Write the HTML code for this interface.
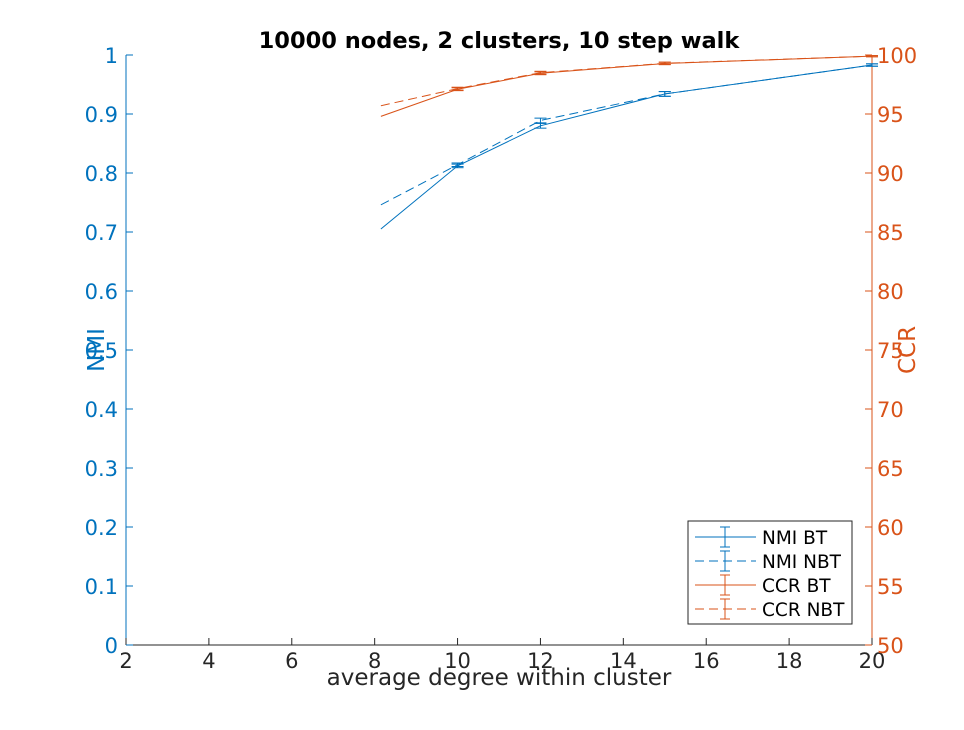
<!DOCTYPE html>
<html><head><meta charset="utf-8"><style>
body{margin:0;background:#fff;}
svg text{font-family:"DejaVu Sans","Liberation Sans",sans-serif;}
</style></head><body>
<svg id="c" width="964" height="725" xmlns="http://www.w3.org/2000/svg"></svg>
<script>
const xVals=[8.15,10,12,15,20];
const nmiBT=[0.705,0.812,0.880,0.934,0.983];
const nmiNBT=[0.746,0.814,0.889,0.934,0.983];
const nmiErr=[0,0.003,0.004,0.004,0.002];
const ccrBT=[94.8,97.1,98.45,99.28,99.9];
const ccrNBT=[95.7,97.15,98.5,99.3,99.9];
const ccrErr=[0,0.12,0.12,0.1,0.05];
const xTicks=[2,4,6,8,10,12,14,16,18,20];
const yTicks=[0,0.1,0.2,0.3,0.4,0.5,0.6,0.7,0.8,0.9,1];
const y2Ticks=[50,55,60,65,70,75,80,85,90,95,100];
const L=126,R=872,T=55,B=645;
const sx=v=>L+(v-2)/18*(R-L);
const sy=v=>B-v*(B-T);
const sy2=v=>B-(v-50)/50*(B-T);
const NS="http://www.w3.org/2000/svg";
const svg=document.getElementById('c');
function el(tag,attrs,name,txt){const e=document.createElementNS(NS,tag);for(const k in attrs)e.setAttribute(k,attrs[k]);


if(txt!==undefined)e.textContent=txt;svg.appendChild(e);return e;}
const blue='#0072BD',red='#D95319',dark='#262626';
el('line',{x1:L,y1:B,x2:R,y2:B,stroke:dark,'stroke-width':1},'x-axis');
el('line',{x1:L,y1:T,x2:L,y2:B,stroke:blue,'stroke-width':1},'y-axis-left');
el('line',{x1:R,y1:T,x2:R,y2:B,stroke:red,'stroke-width':1},'y-axis-right');
xTicks.forEach(t=>{const x=sx(t);
el('line',{x1:x,y1:B,x2:x,y2:B-7,stroke:dark},'x-tick');
el('text',{x:x,y:B+23,'text-anchor':'middle','font-size':21,fill:dark},'x-tick-label',t);});
yTicks.forEach(t=>{const y=sy(t);
el('line',{x1:L,y1:y,x2:L+7,y2:y,stroke:blue},'y-tick');
el('text',{x:L-8,y:y+8,'text-anchor':'end','font-size':21,fill:blue},'y-tick-label',String(t));});
y2Ticks.forEach(t=>{const y=sy2(t);
el('line',{x1:R,y1:y,x2:R-7,y2:y,stroke:red},'y2-tick');
el('text',{x:R+5,y:y+8,'text-anchor':'start','font-size':21,fill:red},'y2-tick-label',String(t));});
el('text',{x:(L+R)/2,y:685,'text-anchor':'middle','font-size':23,fill:dark},'x-axis-title','average degree within cluster');
el('text',{x:0,y:0,'text-anchor':'middle','font-size':23,fill:blue,transform:'translate(104,350) rotate(-90)'},'y-axis-title','NMI');
el('text',{x:0,y:0,'text-anchor':'middle','font-size':23,fill:red,transform:'translate(915,350) rotate(-90)'},'y2-axis-title','CCR');
el('text',{x:499,y:48,'text-anchor':'middle','font-size':22.5,'font-weight':'bold',fill:'#000'},'chart-title','10000 nodes, 2 clusters, 10 step walk');
function series(vals,err,f,color,dash,name){
const pts=xVals.map((x,i)=>sx(x)+','+f(vals[i])).join(' ');
const a={points:pts,fill:'none',stroke:color,'stroke-width':1};if(dash)a['stroke-dasharray']='9,5';
el('polyline',a,name+'-line');
xVals.forEach((x,i)=>{if(!err[i])return;const cx=sx(x),y1=f(vals[i]+err[i]),y2=f(vals[i]-err[i]);
el('line',{x1:cx,y1:y1,x2:cx,y2:y2,stroke:color},name+'-errorbar');
el('line',{x1:cx-6,y1:y1,x2:cx+6,y2:y1,stroke:color},name+'-errorcap');
el('line',{x1:cx-6,y1:y2,x2:cx+6,y2:y2,stroke:color},name+'-errorcap');});}
series(nmiBT,nmiErr,sy,blue,false,'nmi-bt');
series(nmiNBT,nmiErr,sy,blue,true,'nmi-nbt');
series(ccrBT,ccrErr,sy2,red,false,'ccr-bt');
series(ccrNBT,ccrErr,sy2,red,true,'ccr-nbt');
el('rect',{x:688,y:521,width:164,height:103,fill:'#fff',stroke:dark,'stroke-width':1},'legend');
const leg=[['NMI BT',blue,false],['NMI NBT',blue,true],['CCR BT',red,false],['CCR NBT',red,true]];
leg.forEach((d,i)=>{const y=537+i*24;
const a={x1:695,y1:y,x2:756,y2:y,stroke:d[1]};if(d[2])a['stroke-dasharray']='9,5';
el('line',a,'legend-line');
el('line',{x1:725,y1:y-10,x2:725,y2:y+10,stroke:d[1]},'legend-errorbar');
el('line',{x1:720,y1:y-10,x2:730,y2:y-10,stroke:d[1]},'legend-errorcap');
el('line',{x1:720,y1:y+10,x2:730,y2:y+10,stroke:d[1]},'legend-errorcap');
el('text',{x:762,y:y+7,'font-size':18.5,fill:'#000'},'legend-entry',d[0]);});
</script>
</body></html>
